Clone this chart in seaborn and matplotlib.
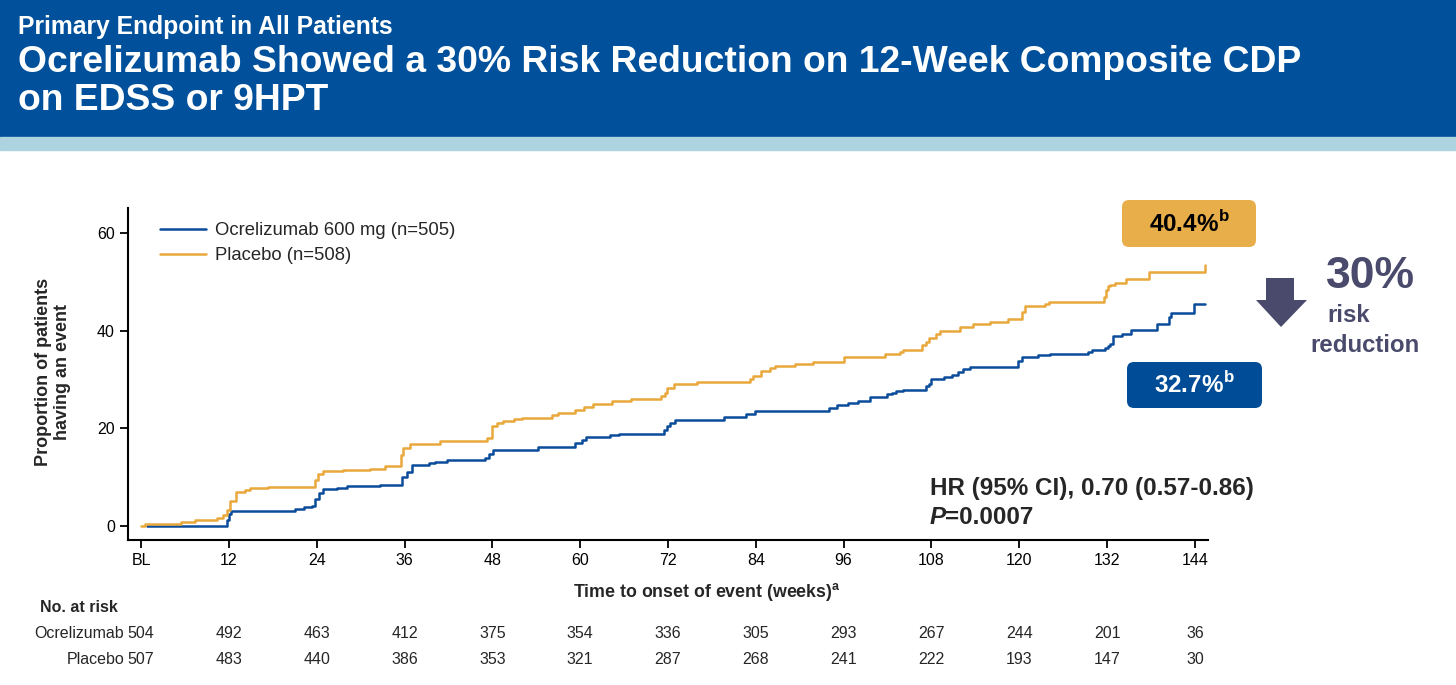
import matplotlib
matplotlib.use("Agg")
import matplotlib.pyplot as plt
from matplotlib.patches import Rectangle, FancyBboxPatch, Polygon
import matplotlib.transforms as mtransforms
import seaborn as sns
import pandas as pd

# Kaplan-Meier style step data (weeks, % with event)
ocr_weeks = [0.8, 11.7, 12.0, 12.3, 21.0, 22.2, 23.4, 23.8, 24.3, 24.9, 26.7, 28.1, 32.6,
             35.6, 36.3, 37.0, 39.3, 40.2, 41.8, 47.0, 47.5, 48.1, 54.3, 59.3, 60.2, 60.8,
             64.1, 65.3, 71.4, 71.8, 72.3, 73.0, 79.6, 82.7, 83.9, 94.0, 95.1, 96.6, 98.0,
             99.6, 101.9, 102.6, 103.2, 104.1, 107.3, 107.7, 108.0, 109.7, 110.8, 111.7,
             112.3, 113.3, 119.9, 120.4, 122.6, 124.2, 129.4, 129.9, 131.7, 132.1, 132.4,
             132.8, 134.0, 135.3, 138.8, 140.5, 140.8, 143.9, 145.4]
ocr_pct = [0.0, 1.2, 2.5, 3.1, 3.4, 3.8, 4.1, 5.5, 6.8, 7.5, 7.8, 8.2, 8.4,
           10.1, 11.1, 12.4, 12.9, 13.2, 13.5, 14.0, 14.7, 15.6, 16.1, 17.0, 17.6, 18.2,
           18.6, 18.9, 19.7, 20.4, 21.2, 21.8, 22.3, 23.0, 23.6, 24.1, 24.7, 25.1, 25.7,
           26.4, 27.0, 27.3, 27.7, 27.9, 28.6, 29.2, 30.1, 30.5, 30.9, 31.6,
           32.1, 32.5, 33.8, 34.6, 35.0, 35.3, 35.7, 36.1, 36.4, 36.8, 37.4,
           38.9, 39.3, 40.2, 41.4, 42.8, 43.6, 45.6, 45.6]

pbo_weeks = [0.0, 0.5, 5.4, 7.4, 10.4, 11.2, 11.7, 12.2, 13.0, 14.2, 14.9, 17.4, 23.7,
             24.2, 24.9, 27.6, 31.3, 33.3, 35.5, 35.8, 36.8, 40.8, 47.3, 47.9, 48.6, 49.4,
             50.9, 52.0, 56.1, 57.0, 59.3, 60.5, 61.7, 64.4, 66.9, 71.0, 71.6, 71.9, 72.8,
             76.0, 83.2, 83.6, 84.7, 86.0, 86.6, 89.3, 91.8, 96.0, 101.6, 103.7, 104.1,
             106.7, 107.2, 107.7, 108.6, 109.2, 111.9, 113.7, 116.0, 118.5, 120.4, 120.8,
             123.5, 124.1, 131.6, 131.8, 132.1, 132.4, 133.1, 134.6, 137.8, 145.3, 145.4]
pbo_pct = [0.0, 0.4, 0.8, 1.2, 1.6, 2.2, 3.3, 5.1, 6.9, 7.4, 7.7, 8.0, 9.4,
           10.7, 11.3, 11.4, 11.7, 12.2, 14.5, 15.9, 16.8, 17.5, 18.0, 20.5, 21.2, 21.5,
           21.9, 22.2, 22.7, 23.2, 23.8, 24.4, 24.9, 25.6, 26.0, 26.6, 27.3, 28.2, 29.2,
           29.6, 30.1, 30.7, 31.8, 32.3, 32.8, 33.2, 33.6, 34.6, 35.2, 35.7, 36.1,
           37.1, 37.8, 38.5, 39.3, 40.0, 40.8, 41.4, 41.9, 42.4, 43.9, 45.1,
           45.6, 46.0, 47.0, 48.4, 49.2, 49.5, 49.9, 50.6, 52.0, 52.0, 53.5]

tick_weeks = [0, 12, 24, 36, 48, 60, 72, 84, 96, 108, 120, 132, 144]
tick_labels = ["BL", "12", "24", "36", "48", "60", "72", "84", "96", "108", "120", "132", "144"]
ocr_at_risk = [504, 492, 463, 412, 375, 354, 336, 305, 293, 267, 244, 201, 36]
pbo_at_risk = [507, 483, 440, 386, 353, 321, 287, 268, 241, 222, 193, 147, 30]

blue = "#0A4C9A"
orange = "#E9A83C"
header_blue = "#00509B"
slate = "#4A4A6C"

sns.set_style("ticks")
plt.rcParams["font.family"] = ["Liberation Sans", "DejaVu Sans"]

W, H = 1456, 685
fig = plt.figure(figsize=(W / 100, H / 100), dpi=100)

def fx(px):
    return px / W

def fy(py):
    return 1 - py / H

# header band
fig.patches.append(Rectangle((0, fy(137)), 1, 1 - fy(137), transform=fig.transFigure,
                             color=header_blue, zorder=0))
fig.patches.append(Rectangle((0, fy(150)), 1, fy(137) - fy(150), transform=fig.transFigure,
                             color="#ADD3E1", zorder=0))
fig.text(fx(18), fy(27), "Primary Endpoint in All Patients", color="white",
         fontsize=17.8, fontweight="bold", va="center", ha="left")
fig.text(fx(18), fy(62), "Ocrelizumab Showed a 30% Risk Reduction on 12-Week Composite CDP",
         color="white", fontsize=26.8, fontweight="bold", va="center", ha="left")
fig.text(fx(18), fy(100), "on EDSS or 9HPT", color="white", fontsize=26.8,
         fontweight="bold", va="center", ha="left")

ax = fig.add_axes([fx(128), fy(540), fx(1208) - fx(128), fy(208) - fy(540)])

ocr_df = pd.DataFrame({"week": ocr_weeks, "pct": ocr_pct})
pbo_df = pd.DataFrame({"week": pbo_weeks, "pct": pbo_pct})
sns.lineplot(data=ocr_df, x="week", y="pct", ax=ax, color=blue, lw=1.8,
             drawstyle="steps-post", estimator=None, sort=False,
             label="Ocrelizumab 600 mg (n=505)")
sns.lineplot(data=pbo_df, x="week", y="pct", ax=ax, color=orange, lw=1.8,
             drawstyle="steps-post", estimator=None, sort=False,
             label="Placebo (n=508)")

ax.set_xlim(-1.8, 145.8)
ax.set_ylim(-2.9, 65.2)
ax.set_xticks(tick_weeks)
ax.set_xticklabels(tick_labels)
ax.set_yticks([0, 20, 40, 60])
ax.tick_params(axis="both", labelsize=11.5, length=6, width=1.3, colors="black")
for s in ["left", "bottom"]:
    ax.spines[s].set_linewidth(1.5)
    ax.spines[s].set_color("black")
sns.despine(ax=ax)
ax.set_xlabel("")
ax.set_ylabel("")

leg = ax.legend(loc="upper left", bbox_to_anchor=(fx(160), fy(222)),
                bbox_transform=fig.transFigure, frameon=False, fontsize=13.3,
                handlelength=2.5, handletextpad=0.5, labelspacing=0.46,
                borderpad=0, borderaxespad=0)

fig.text(fx(53), fy(372), "Proportion of patients\nhaving an event", rotation=90,
         fontsize=13, fontweight="bold", ha="center", va="center", multialignment="center")
fig.text(fx(707), fy(592), r"Time to onset of event (weeks)$^{\mathregular{a}}$",
         fontsize=12.8, fontweight="bold", ha="center", va="center")

# number at risk table
fig.text(fx(40), fy(608), "No. at risk", fontsize=11.5, fontweight="bold",
         ha="left", va="center")
fig.text(fx(124), fy(633), "Ocrelizumab", fontsize=11.5, ha="right", va="center")
fig.text(fx(124), fy(660), "Placebo", fontsize=11.5, ha="right", va="center")
blend = mtransforms.blended_transform_factory(ax.transData, fig.transFigure)
for wk, a, b in zip(tick_weeks, ocr_at_risk, pbo_at_risk):
    ax.text(wk, fy(633), str(a), transform=blend, fontsize=11.5, ha="center",
            va="center", clip_on=False)
    ax.text(wk, fy(660), str(b), transform=blend, fontsize=11.5, ha="center",
            va="center", clip_on=False)

# rounded value boxes (inch coordinates keep the corners round)
inch = fig.dpi_scale_trans
for (x0, y0, x1, y1, fc, tc, txt) in [(1122, 200, 1256, 247, "#E8AE4A", "black", "40.4%"),
                                       (1127, 362, 1262, 408, "#004C97", "white", "32.7%")]:
    box = FancyBboxPatch((x0 / 100, (H - y1) / 100), (x1 - x0) / 100, (y1 - y0) / 100,
                         boxstyle="round,pad=0,rounding_size=0.07", transform=inch,
                         fc=fc, ec="none", zorder=3)
    fig.patches.append(box)
    fig.text(fx((x0 + x1) / 2), fy((y0 + y1) / 2), txt + r"$^{\mathregular{b}}$",
             color=tc, fontsize=17.5, fontweight="bold", ha="center", va="center", zorder=4)

# down arrow and risk reduction
arrow = Polygon([(1266, 278), (1294, 278), (1294, 300), (1307, 300), (1281, 327),
                 (1256, 300), (1266, 300)], closed=True, fc=slate, ec="none",
                transform=inch)
arrow.set_xy([(x / 100, (H - y) / 100) for x, y in arrow.get_xy()])
fig.patches.append(arrow)
fig.text(fx(1370), fy(276), "30%", color=slate, fontsize=32, fontweight="bold",
         ha="center", va="center")
fig.text(fx(1349), fy(316), "risk", color=slate, fontsize=17.3, fontweight="bold",
         ha="center", va="center")
fig.text(fx(1365), fy(345), "reduction", color=slate, fontsize=17.3, fontweight="bold",
         ha="center", va="center")

# hazard ratio text
fig.text(fx(930), fy(488), "HR (95% CI), 0.70 (0.57-0.86)", fontsize=17.5,
         fontweight="bold", ha="left", va="center")
ptxt = fig.text(fx(930), fy(517), "P", fontsize=17.5, fontweight="bold", style="italic",
                ha="left", va="center")
fig.text(fx(945), fy(517), "=0.0007", fontsize=17.5, fontweight="bold",
         ha="left", va="center")

fig.savefig("out.png", dpi=100)
